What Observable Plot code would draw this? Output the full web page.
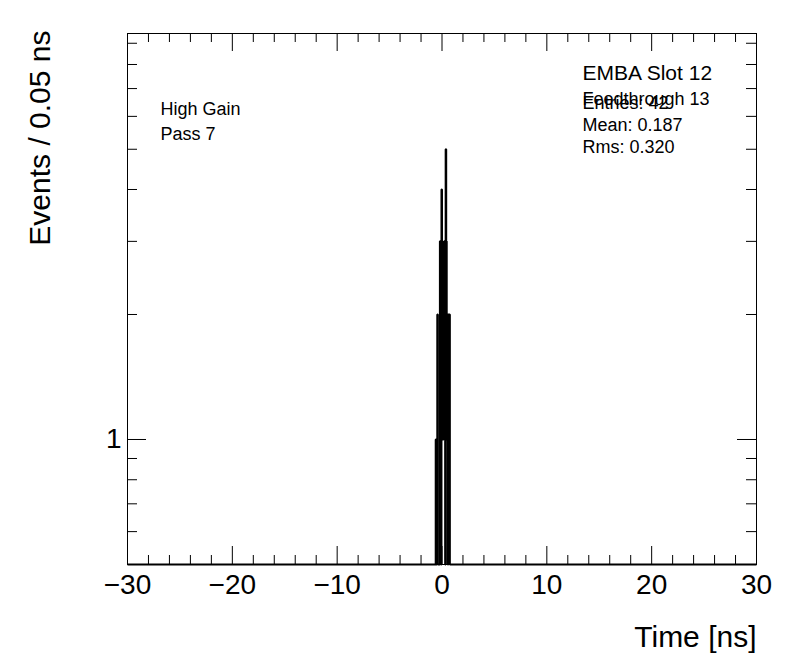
<!DOCTYPE html>
<html><head><meta charset="utf-8">
<script src="https://cdn.jsdelivr.net/npm/d3@7"></script>
<script src="https://cdn.jsdelivr.net/npm/@observablehq/plot@0.6"></script>
<style>
html,body{margin:0;padding:0;background:#fff;}
#chart{width:796px;height:672px;}
</style></head><body><div id="chart"></div>
<script>
// ---- data ----
const xDomain = [-30, 30];
const yDomain = [0.5, 9.5];
const binWidth = 0.05;
const binLow = [-0.60,-0.55,-0.50,-0.45,-0.40,-0.35,-0.30,-0.25,-0.20,-0.15,-0.10,-0.05,0.00,0.05,0.10,0.15,0.20,0.25,0.30,0.35,0.40,0.45,0.50,0.55,0.60,0.65,0.70,0.75];
const counts = [1,0,1,2,0,0,0,0,3,2,0,4,3,1,1,2,3,2,0,5,3,1,2,0,2,2,2,0];
const xMajor = [-30,-20,-10,0,10,20,30];
const xMinor = [-28,-26,-24,-22,-18,-16,-14,-12,-8,-6,-4,-2,2,4,6,8,12,14,16,18,22,24,26,28];
const yMajor = [1];
const yMinor = [0.6,0.7,0.8,0.9,2,3,4,5,6,7,8,9];
const xTitle = "Time [ns]";
const yTitle = "Events / 0.05 ns";
const infoLeft = ["High Gain", "Pass 7"];
const infoRight = ["EMBA Slot 12", "Feedthrough 13"];
const stats = ["Entries: 42", "Mean: 0.187", "Rms: 0.320"];

// ---- layout ----
const W = 796, H = 672, mL = 127, mR = 40, mT = 33, mB = 108;
const fw = W - mL - mR, fh = H - mT - mB;
const font = "'Liberation Sans', Arimo, Helvetica, Arial, sans-serif";

// step outline of histogram
const pts = [{x: xDomain[0], y: yDomain[0]}, {x: binLow[0], y: yDomain[0]}];
binLow.forEach((lo, i) => {
  const v = Math.max(counts[i], yDomain[0]);
  pts.push({x: lo, y: v}, {x: lo + binWidth, y: v});
});
pts.push({x: binLow[binLow.length - 1] + binWidth, y: yDomain[0]}, {x: xDomain[1], y: yDomain[0]});

const fmt = d3.format("");

const label = (t, dx, dy, size) => Plot.text([t], {frameAnchor: "top-left", textAnchor: "start", lineAnchor: "top", dx, dy, fontSize: size, fill: "black"});

const chart = Plot.plot({
  width: W, height: H,
  marginLeft: mL, marginRight: mR, marginTop: mT, marginBottom: mB,
  style: {fontFamily: font, background: "white", overflow: "visible", color: "black"},
  x: {domain: xDomain, axis: null},
  y: {type: "log", domain: yDomain, axis: null},
  marks: [
    Plot.line(pts, {x: "x", y: "y", stroke: "black", strokeWidth: 2, strokeLinejoin: "miter", strokeLinecap: "butt"}),
    Plot.frame({stroke: "black", strokeWidth: 1}),
    // x ticks bottom/top
    Plot.ruleX(xMajor, {x: d => d, insetTop: fh - 18, stroke: "black"}),
    Plot.ruleX(xMinor, {x: d => d, insetTop: fh - 9, stroke: "black"}),
    Plot.ruleX(xMajor, {x: d => d, insetBottom: fh - 18, stroke: "black"}),
    Plot.ruleX(xMinor, {x: d => d, insetBottom: fh - 9, stroke: "black"}),
    // y ticks left/right
    Plot.ruleY(yMajor, {y: d => d, insetRight: fw - 19, stroke: "black"}),
    Plot.ruleY(yMinor, {y: d => d, insetRight: fw - 10, stroke: "black"}),
    Plot.ruleY(yMajor, {y: d => d, insetLeft: fw - 19, stroke: "black"}),
    Plot.ruleY(yMinor, {y: d => d, insetLeft: fw - 10, stroke: "black"}),
    // tick labels
    Plot.text(xMajor, {x: d => d, frameAnchor: "bottom", lineAnchor: "top", dy: 10, fontSize: 28, text: d => fmt(d), fill: "black"}),
    Plot.text(yMajor, {y: d => d, frameAnchor: "left", textAnchor: "end", lineAnchor: "middle", dx: -6, fontSize: 28, text: d => fmt(d), fill: "black"}),
    // axis titles
    Plot.text([xTitle], {frameAnchor: "bottom-right", textAnchor: "end", lineAnchor: "top", dy: 61, fontSize: 30, fill: "black"}),
    Plot.text([yTitle], {frameAnchor: "top-left", textAnchor: "end", lineAnchor: "middle", rotate: -90, dx: -87, dy: -3, fontSize: 30, fill: "black"}),
    // info texts
    label(infoLeft[0], 33, 69, 18),
    label(infoLeft[1], 33, 94, 18),
    label(infoRight[0], 455, 32, 21),
    label(infoRight[1], 455, 59, 18),
    ...stats.map((s, i) => label(s, 455, 63 + 22 * i, 18))
  ]
});
document.getElementById("chart").appendChild(chart);
</script></body></html>
